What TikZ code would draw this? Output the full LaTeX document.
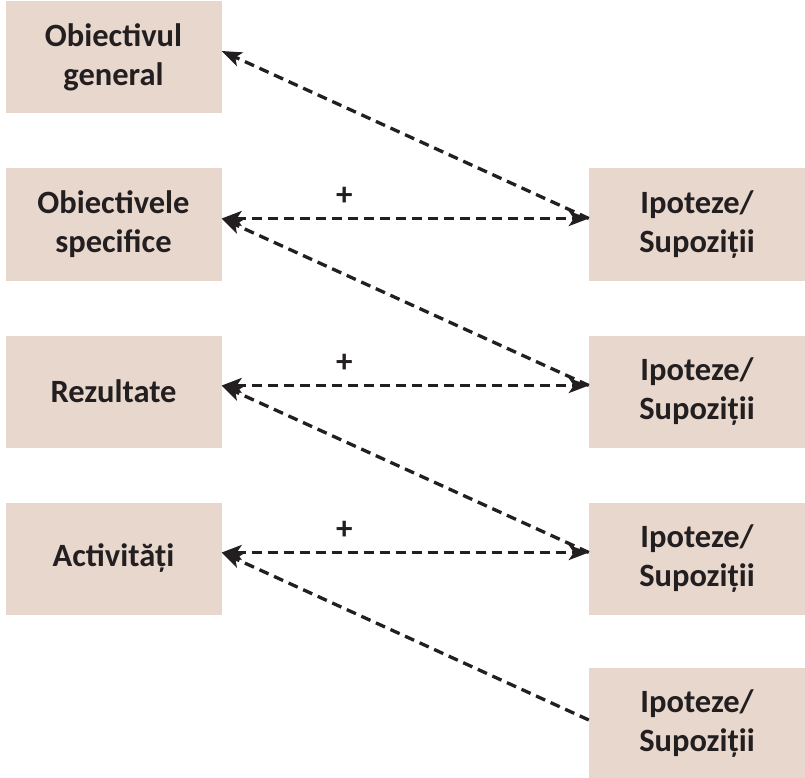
\documentclass[tikz,border=0pt]{standalone}
\usepackage{fontspec}
\setmainfont{Carlito}
\usetikzlibrary{arrows.meta}
\definecolor{boxfill}{HTML}{E7D7CD}
\definecolor{ink}{HTML}{231F20}
\begin{document}
\begin{tikzpicture}[x=1pt,y=-1pt,
  box/.style={fill=boxfill, draw=none, minimum width=216pt, minimum height=112pt,
    inner sep=0pt, align=center, text=ink,
    font=\bfseries\fontsize{32.5}{39}\selectfont},
  link/.style={draw=ink, line width=3.3pt, dash pattern=on 10pt off 6pt},
  head/.tip={Stealth[length=20pt,width=15pt,inset=5pt]},
  plus/.style={text=ink, font=\bfseries\fontsize{33}{36}\selectfont, inner sep=0pt,
    above=11pt}]
\useasboundingbox (0,0) rectangle (805,778);

% left column: objectives, results, activities
\node[box] (L1) at (113.5,57)    {Obiectivul\\general};
\node[box] (L2) at (113.5,224.5) {Obiectivele\\specifice};
\node[box] (L3) at (113.5,391.5) {Rezultate};
\node[box] (L4) at (113.5,558.5) {Activități};

% right column: assumptions
\node[box] (R1) at (697,224.5) {Ipoteze/\\Supoziții};
\node[box] (R2) at (697,391.5) {Ipoteze/\\Supoziții};
\node[box] (R3) at (697,558.5) {Ipoteze/\\Supoziții};
\node[box] (R4) at (697,724)   {Ipoteze/\\Supoziții};

% diagonal links from each assumption up to the level above
\draw[link, -{head}] ([yshift=6pt]R1.west) -- ([yshift=6pt]L1.east);
\draw[link, -{head}] ([yshift=6pt]R2.west) -- ([yshift=6pt]L2.east);
\draw[link, -{head}] ([yshift=6pt]R3.west) -- ([yshift=6pt]L3.east);
\draw[link, -{head}] ([yshift=4pt]R4.west) -- ([yshift=6pt]L4.east);

% horizontal two-way links with "+"
\draw[link, {head}-{head}] ([yshift=6pt]L2.east) -- node[pos=0.334, plus] {+} ([yshift=6pt]R1.west);
\draw[link, {head}-{head}] ([yshift=6pt]L3.east) -- node[pos=0.334, plus] {+} ([yshift=6pt]R2.west);
\draw[link, {head}-{head}] ([yshift=6pt]L4.east) -- node[pos=0.334, plus] {+} ([yshift=6pt]R3.west);
\end{tikzpicture}
\end{document}
